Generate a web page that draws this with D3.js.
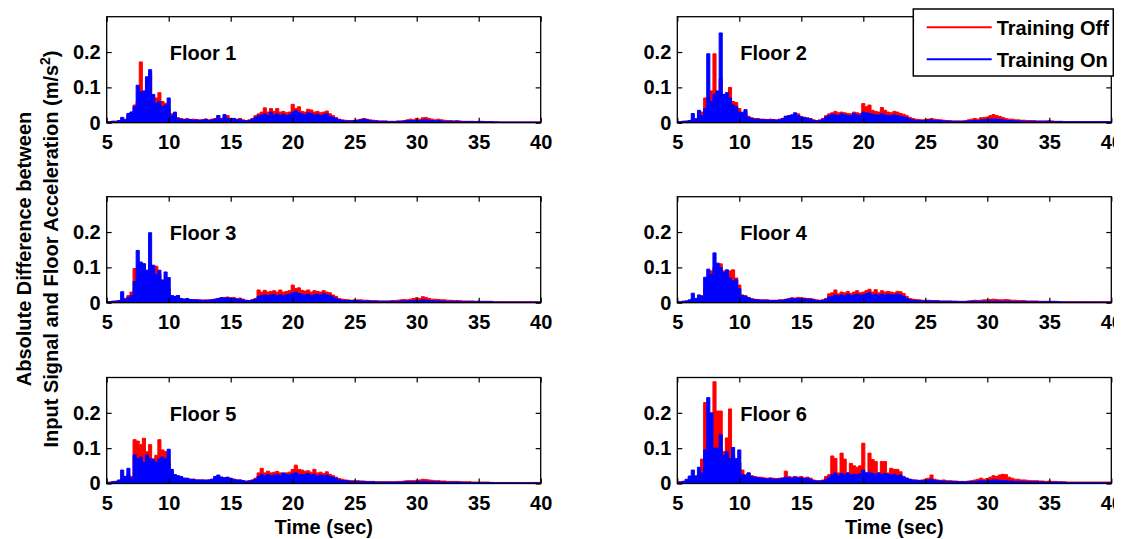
<!DOCTYPE html>
<html>
<head>
<meta charset="utf-8">
<script src="https://cdn.jsdelivr.net/npm/d3@7"></script>
<style>
  html, body { margin: 0; padding: 0; background: #fff; }
  svg { display: block; font-family: "Liberation Sans", Arial, sans-serif; font-weight: bold; }
</style>
</head>
<body>
<svg id="chart" width="1128" height="539"></svg>
<script>
/* ── Data: |input - floor accel| sampled every 0.25 s, 5..40 s ─────── */
const times = d3.range(5, 40.001, 0.25);

const floor1Off = [
  .003,.003,.004,.004,.006,.008,.010,.020,.030,.050,.060,.172,.080,.120,.140,.078,.070,.085,.060,.055,
  .040,.025,.020,.014,.012,.010,.012,.009,.010,.008,.008,.009,.010,.008,.010,.012,.020,.012,.015,.020,
  .012,.012,.010,.012,.008,.006,.008,.012,.020,.025,.030,.042,.030,.040,.032,.040,.030,.032,.028,.030,
  .052,.040,.045,.032,.030,.038,.036,.030,.032,.028,.030,.033,.025,.020,.015,.010,.008,.007,.006,.006,
  .007,.008,.010,.012,.010,.008,.007,.006,.005,.005,.005,.004,.004,.004,.005,.005,.006,.008,.010,.008,
  .012,.010,.014,.015,.012,.010,.008,.010,.008,.007,.006,.006,.005,.006,.005,.004,.004,.004,.004,.003,
  .004,.004,.003,.003,.003,.003,.003,.002,.002,.002,.002,.002,.002,.002,.002,.002,.002,.002,.002,.002,.002
];
const floor1On = [
  .002,.003,.004,.004,.006,.015,.008,.026,.030,.045,.106,.087,.090,.130,.150,.080,.055,.060,.045,.050,
  .070,.020,.030,.012,.010,.009,.008,.009,.007,.008,.006,.007,.010,.006,.008,.010,.020,.010,.023,.012,
  .010,.012,.008,.010,.006,.005,.006,.010,.015,.020,.022,.025,.020,.030,.022,.025,.020,.024,.020,.022,
  .030,.034,.028,.025,.022,.028,.026,.022,.024,.020,.022,.025,.018,.015,.012,.008,.006,.005,.005,.005,
  .006,.006,.008,.010,.008,.006,.005,.005,.004,.004,.004,.003,.003,.003,.004,.004,.005,.006,.006,.006,
  .007,.006,.008,.008,.007,.006,.005,.006,.005,.004,.004,.004,.004,.004,.003,.003,.003,.003,.003,.003,
  .003,.003,.003,.003,.003,.002,.002,.002,.002,.002,.002,.002,.002,.002,.002,.002,.002,.002,.002,.002,.002
];
const floor2Off = [
  .003,.003,.004,.005,.006,.010,.012,.020,.030,.070,.060,.090,.195,.085,.125,.080,.075,.100,.060,.057,
  .040,.030,.025,.018,.014,.012,.012,.010,.010,.009,.010,.009,.008,.010,.012,.018,.020,.022,.020,.025,
  .018,.015,.014,.012,.008,.006,.008,.012,.020,.025,.028,.032,.028,.030,.028,.026,.025,.030,.028,.026,
  .054,.045,.050,.035,.032,.030,.043,.035,.030,.028,.032,.030,.026,.024,.020,.015,.012,.010,.009,.008,
  .009,.010,.012,.010,.009,.008,.007,.006,.006,.005,.005,.005,.005,.006,.008,.010,.012,.010,.014,.015,
  .016,.020,.023,.020,.018,.015,.012,.010,.010,.008,.008,.007,.007,.006,.006,.006,.005,.005,.005,.005,
  .006,.005,.004,.004,.004,.003,.003,.003,.003,.003,.003,.003,.003,.003,.003,.003,.003,.003,.003,.003,.003
];
const floor2On = [
  .002,.003,.004,.004,.006,.026,.010,.035,.020,.040,.195,.060,.080,.090,.254,.080,.085,.070,.050,.045,
  .030,.028,.037,.015,.012,.010,.010,.009,.008,.008,.008,.008,.007,.008,.012,.018,.020,.022,.028,.020,
  .016,.015,.012,.010,.006,.005,.006,.010,.016,.020,.024,.022,.020,.026,.022,.020,.020,.026,.022,.020,
  .030,.028,.026,.024,.022,.022,.025,.022,.020,.020,.022,.020,.018,.016,.014,.010,.008,.007,.006,.006,
  .006,.008,.008,.007,.006,.006,.005,.005,.004,.004,.004,.004,.004,.004,.005,.006,.007,.006,.008,.008,
  .009,.010,.010,.010,.009,.008,.007,.006,.006,.005,.005,.005,.004,.004,.004,.004,.004,.004,.004,.004,
  .004,.003,.003,.003,.003,.003,.003,.003,.003,.003,.003,.003,.003,.003,.003,.003,.003,.003,.003,.003,.003
];
const floor3Off = [
  .003,.003,.004,.005,.006,.010,.012,.020,.030,.097,.060,.110,.110,.090,.110,.080,.103,.080,.064,.060,
  .040,.020,.015,.020,.012,.010,.010,.009,.008,.008,.008,.007,.008,.008,.009,.010,.012,.014,.015,.016,
  .014,.015,.012,.013,.010,.007,.006,.008,.012,.036,.030,.035,.030,.032,.034,.030,.036,.030,.032,.034,
  .050,.040,.042,.035,.033,.036,.030,.034,.032,.030,.034,.030,.028,.022,.018,.012,.010,.009,.008,.007,
  .008,.008,.008,.007,.007,.006,.006,.006,.005,.005,.005,.005,.006,.006,.007,.008,.009,.008,.010,.012,
  .014,.012,.017,.015,.012,.010,.010,.009,.008,.008,.007,.007,.006,.006,.006,.005,.005,.005,.005,.004,
  .005,.004,.004,.004,.004,.003,.003,.003,.003,.003,.003,.003,.003,.003,.003,.003,.003,.003,.003,.003,.003
];
const floor3On = [
  .002,.003,.004,.004,.006,.031,.010,.015,.020,.060,.148,.115,.110,.092,.198,.106,.080,.092,.064,.087,
  .071,.020,.018,.020,.012,.010,.012,.009,.008,.008,.007,.007,.006,.007,.008,.010,.012,.014,.013,.014,
  .012,.012,.010,.010,.008,.006,.006,.008,.010,.018,.020,.022,.020,.022,.024,.020,.022,.020,.022,.024,
  .028,.030,.026,.024,.022,.024,.020,.022,.024,.022,.025,.022,.020,.016,.012,.009,.007,.006,.006,.006,
  .006,.006,.005,.005,.005,.005,.004,.004,.004,.004,.004,.004,.004,.004,.004,.005,.005,.005,.006,.006,
  .007,.006,.008,.007,.006,.006,.005,.005,.005,.004,.004,.004,.004,.004,.003,.003,.003,.003,.003,.003,
  .003,.003,.003,.003,.003,.002,.002,.002,.002,.002,.002,.002,.002,.002,.002,.002,.002,.002,.002,.002,.002
];
const floor4Off = [
  .003,.003,.004,.005,.006,.012,.012,.015,.020,.040,.060,.090,.100,.105,.110,.090,.085,.090,.093,.070,
  .050,.022,.020,.015,.012,.010,.009,.008,.008,.008,.007,.007,.007,.008,.008,.010,.012,.014,.013,.015,
  .014,.013,.012,.012,.010,.008,.007,.008,.012,.025,.028,.036,.025,.030,.028,.032,.026,.030,.034,.028,
  .030,.034,.038,.030,.037,.028,.034,.030,.032,.030,.028,.032,.031,.026,.018,.012,.010,.009,.008,.007,
  .007,.007,.006,.006,.006,.005,.005,.005,.005,.004,.004,.004,.004,.004,.005,.006,.007,.006,.007,.008,
  .008,.009,.010,.009,.008,.008,.009,.008,.007,.007,.006,.006,.006,.005,.005,.005,.005,.004,.004,.004,
  .004,.004,.004,.003,.003,.003,.003,.003,.003,.003,.003,.003,.003,.003,.003,.003,.003,.003,.003,.003,.003
];
const floor4On = [
  .002,.003,.004,.005,.008,.027,.012,.022,.018,.072,.095,.080,.141,.112,.100,.085,.093,.070,.062,.065,
  .040,.020,.018,.014,.010,.009,.008,.007,.007,.007,.006,.006,.006,.007,.007,.009,.010,.012,.011,.012,
  .011,.011,.010,.010,.008,.006,.006,.007,.010,.016,.018,.022,.020,.022,.020,.024,.020,.022,.024,.022,
  .022,.025,.028,.022,.024,.022,.024,.022,.024,.022,.022,.024,.022,.018,.012,.009,.007,.006,.006,.005,
  .005,.005,.005,.005,.005,.004,.004,.004,.004,.004,.004,.003,.003,.003,.004,.004,.004,.004,.004,.004,
  .004,.004,.004,.004,.004,.004,.004,.004,.004,.003,.003,.003,.003,.003,.003,.003,.003,.003,.003,.003,
  .003,.003,.003,.003,.002,.002,.002,.002,.002,.002,.002,.002,.002,.002,.002,.002,.002,.002,.002,.002,.002
];
const floor5Off = [
  .003,.004,.005,.006,.008,.015,.020,.025,.020,.124,.120,.110,.128,.090,.110,.070,.080,.124,.095,.090,
  .060,.030,.025,.020,.018,.015,.014,.012,.012,.010,.010,.010,.010,.010,.012,.018,.020,.018,.016,.016,
  .015,.012,.010,.010,.008,.007,.008,.010,.015,.030,.043,.030,.035,.030,.032,.034,.030,.028,.030,.032,
  .040,.052,.040,.038,.035,.036,.032,.040,.030,.032,.028,.033,.026,.022,.018,.014,.012,.010,.009,.008,
  .008,.008,.007,.007,.006,.006,.006,.005,.005,.005,.005,.005,.005,.005,.006,.006,.007,.008,.008,.008,
  .009,.010,.012,.011,.010,.009,.008,.008,.007,.007,.006,.006,.006,.006,.005,.005,.005,.005,.004,.004,
  .004,.004,.004,.004,.003,.003,.003,.003,.003,.003,.003,.003,.003,.003,.003,.003,.003,.003,.003,.003,.003
];
const floor5On = [
  .002,.003,.005,.006,.010,.038,.020,.043,.015,.081,.070,.075,.060,.081,.070,.067,.060,.070,.075,.070,
  .097,.040,.025,.022,.020,.015,.015,.012,.012,.010,.010,.010,.009,.010,.012,.020,.024,.018,.016,.018,
  .014,.012,.010,.010,.008,.006,.007,.009,.012,.020,.025,.022,.025,.022,.024,.026,.022,.030,.025,.024,
  .028,.030,.026,.025,.026,.028,.024,.026,.022,.024,.022,.024,.020,.018,.015,.010,.008,.008,.007,.006,
  .006,.006,.006,.005,.005,.005,.005,.004,.004,.004,.004,.004,.004,.004,.004,.004,.005,.005,.005,.005,
  .005,.006,.006,.006,.005,.005,.005,.005,.004,.004,.004,.004,.004,.004,.004,.003,.003,.003,.003,.003,
  .003,.003,.003,.003,.003,.002,.002,.002,.002,.002,.002,.002,.002,.002,.002,.002,.002,.002,.002,.002,.002
];
const floor6Off = [
  .004,.005,.006,.008,.012,.020,.022,.030,.069,.229,.120,.100,.288,.205,.205,.090,.129,.211,.080,.070,
  .060,.038,.025,.030,.022,.020,.018,.018,.016,.015,.016,.015,.014,.015,.016,.035,.020,.018,.020,.018,
  .020,.016,.018,.015,.010,.008,.008,.010,.020,.025,.078,.071,.030,.086,.069,.030,.057,.050,.046,.050,
  .114,.030,.086,.068,.062,.030,.062,.062,.030,.043,.040,.040,.033,.020,.015,.012,.010,.010,.009,.010,
  .012,.015,.024,.012,.010,.009,.010,.008,.008,.007,.007,.006,.006,.006,.007,.008,.010,.012,.015,.012,
  .014,.018,.022,.020,.024,.026,.025,.018,.015,.012,.012,.010,.010,.009,.008,.008,.008,.007,.007,.006,
  .007,.006,.006,.005,.005,.005,.004,.004,.004,.004,.004,.004,.004,.004,.004,.004,.004,.004,.004,.004,.004
];
const floor6On = [
  .003,.004,.006,.012,.021,.038,.020,.046,.030,.095,.243,.200,.100,.100,.138,.080,.090,.070,.102,.070,
  .095,.025,.022,.030,.020,.018,.016,.015,.014,.013,.014,.012,.012,.013,.014,.018,.016,.015,.018,.016,
  .016,.014,.015,.012,.008,.007,.007,.008,.012,.018,.025,.030,.022,.028,.025,.030,.024,.026,.025,.028,
  .038,.030,.032,.028,.026,.030,.025,.028,.026,.024,.026,.022,.024,.018,.015,.012,.010,.009,.008,.008,
  .008,.010,.012,.009,.008,.007,.007,.006,.006,.006,.005,.005,.005,.005,.005,.006,.006,.007,.008,.007,
  .008,.009,.010,.010,.009,.008,.008,.007,.007,.006,.006,.006,.005,.005,.005,.005,.005,.005,.004,.004,
  .004,.004,.004,.004,.004,.003,.003,.003,.003,.003,.003,.003,.003,.003,.003,.003,.003,.003,.003,.003,.003
];

const floorNames  = ["Floor 1", "Floor 2", "Floor 3", "Floor 4", "Floor 5", "Floor 6"];
const seriesOff   = [floor1Off, floor2Off, floor3Off, floor4Off, floor5Off, floor6Off];
const seriesOn    = [floor1On, floor2On, floor3On, floor4On, floor5On, floor6On];
const xTicks      = [5, 10, 15, 20, 25, 30, 35, 40];
const yTicks      = [0, 0.1, 0.2];
const yTickLabels = ["0", "0.1", "0.2"];
const legendNames = ["Training Off", "Training On"];

/* ── Layout ──────────────────────────────────────────────────────── */
const colLeft = [106.7, 677.3];
const rowTop  = [16.7, 196.7, 377.5];
const W = 434, H = 106;
const RED = "#ff0000", BLUE = "#0000ff";

const svg = d3.select("#chart");
svg.append("rect").attr("width", 1128).attr("height", 539).attr("fill", "#fff");

// the original figure is cropped just right of the last panel
svg.append("clipPath").attr("id", "page-clip")
  .append("rect").attr("x", 0).attr("y", 0).attr("width", 1114).attr("height", 539);
const root = svg.append("g").attr("clip-path", "url(#page-clip)");

const x = d3.scaleLinear().domain([5, 40]).range([0, W]);
const y = d3.scaleLinear().domain([0, 0.3]).range([H, 0]);

// dense signal: a step area gives thin vertical spikes like the sampled trace
const area = d3.area().curve(d3.curveStep).x((d, i) => x(times[i])).y0(H).y1(d => y(d));
const line = d3.line().curve(d3.curveStep).x((d, i) => x(times[i])).y(d => y(d));

floorNames.forEach((name, k) => {
  const col = k % 2, row = Math.floor(k / 2);
  const g = root.append("g").attr("transform", `translate(${colLeft[col]},${rowTop[row]})`);

  g.append("clipPath").attr("id", `clip-${k}`)
    .append("rect").attr("width", W).attr("height", H);

  const plot = g.append("g").attr("clip-path", `url(#clip-${k})`);
  [[seriesOff[k], RED], [seriesOn[k], BLUE]].forEach(([vals, c]) => {
    plot.append("path").attr("d", area(vals)).attr("fill", c);
    plot.append("path").attr("d", line(vals)).attr("fill", "none")
      .attr("stroke", c).attr("stroke-width", 1);
  });

  // axes (MATLAB style: inward ticks on all four sides)
  g.append("g").attr("transform", `translate(0,${H})`)
    .call(d3.axisBottom(x).tickValues(xTicks).tickSize(-5).tickPadding(12).tickFormat(d3.format("d")));
  g.append("g")
    .call(d3.axisLeft(y).tickValues(yTicks).tickSize(-5).tickPadding(6).tickFormat((d, i) => yTickLabels[i]));
  g.append("g").call(d3.axisTop(x).tickValues(xTicks).tickSize(-5).tickFormat(""));
  g.append("g").attr("transform", `translate(${W},0)`)
    .call(d3.axisRight(y).tickValues(yTicks).tickSize(-5).tickFormat(""));

  g.selectAll(".domain").remove();
  g.selectAll(".tick line").attr("stroke", "#000").attr("stroke-width", 1.2);
  g.selectAll(".tick text").attr("fill", "#000")
    .style("font-size", "20px").style("font-weight", "bold")
    .style("font-family", "'Liberation Sans', Arial, sans-serif");

  g.append("rect").attr("width", W).attr("height", H)
    .attr("fill", "none").attr("stroke", "#000").attr("stroke-width", 1.3);

  g.append("text").attr("x", 63).attr("y", 43)
    .attr("font-size", 20).text(name);

  if (row === 2) {
    root.append("text").attr("x", colLeft[col] + W / 2).attr("y", 534)
      .attr("text-anchor", "middle").attr("font-size", 20).text("Time (sec)");
  }
});

/* ── Shared y label ──────────────────────────────────────────────── */
root.append("text").attr("transform", "translate(31,249) rotate(-90)")
  .attr("text-anchor", "middle").attr("font-size", 20)
  .text("Absolute Difference between");
const yl2 = root.append("text").attr("transform", "translate(58,249) rotate(-90)")
  .attr("text-anchor", "middle").attr("font-size", 20);
yl2.append("tspan").text("Input Signal and Floor Acceleration (m/s");
yl2.append("tspan").attr("font-size", 14).attr("dy", -8).text("2");
yl2.append("tspan").attr("dy", 8).text(")");

/* ── Legend ──────────────────────────────────────────────────────── */
const lg = root.append("g").attr("transform", "translate(913.3,9)");
lg.append("rect").attr("width", 200).attr("height", 67)
  .attr("fill", "#fff").attr("stroke", "#000").attr("stroke-width", 1.5);
[RED, BLUE].forEach((c, i) => {
  const ly = 18.3 + i * 32;
  lg.append("line").attr("x1", 13.4).attr("x2", 78.4).attr("y1", ly).attr("y2", ly)
    .attr("stroke", c).attr("stroke-width", 2);
  lg.append("text").attr("x", 83.4).attr("y", ly + 7.2)
    .attr("font-size", 20).text(legendNames[i]);
});
</script>
</body>
</html>
